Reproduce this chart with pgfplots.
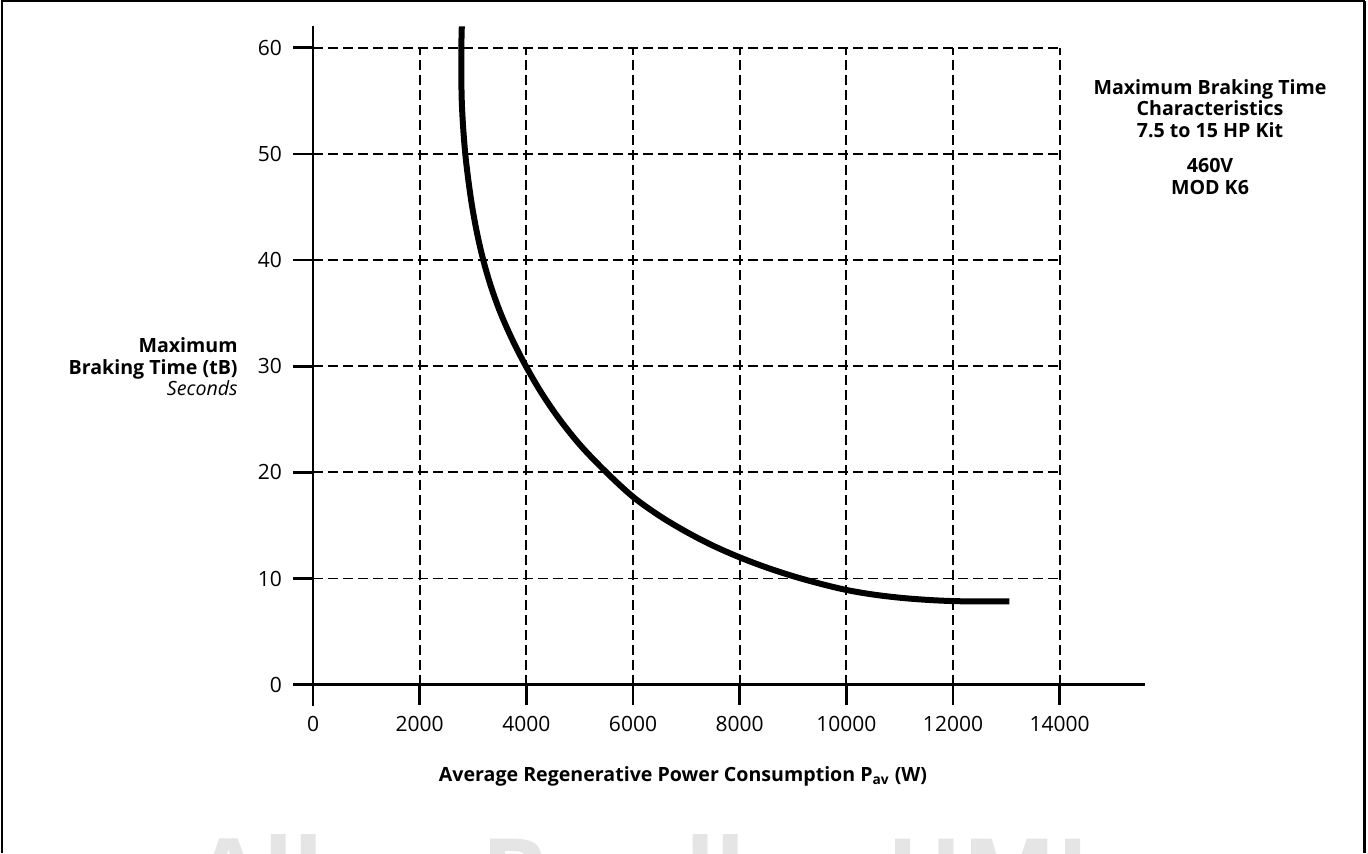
\documentclass[border=0pt]{standalone}
\usepackage{pgfplots}
\pgfplotsset{compat=1.18}
\usepackage{fontspec}
\setmainfont{Open Sans}
\begin{document}
\begin{tikzpicture}
\path[use as bounding box] (0,0) rectangle (684pt,426.5pt);
\begin{scope}
\clip (0,0) rectangle (684pt,426.5pt);
\node[anchor=base west, font=\fontsize{50}{50}\selectfont\bfseries, text=black!10, inner sep=0pt] at (97pt,-28.5pt) {Allen-Bradley HMI};
\end{scope}
\draw[line width=1pt] (0.75pt,0) -- (0.75pt,425.75pt) -- (682.5pt,425.75pt);
\draw[line width=1.6pt] (682.3pt,425.75pt) -- (682.3pt,0);
\begin{axis}[
  at={(146.5pt,73.5pt)}, anchor=south west,
  scale only axis, width=426pt, height=339.8pt,
  xmin=-375, xmax=15600, ymin=-2, ymax=62,
  axis lines=middle,
  axis line style={line width=1.3pt, -},
  hide obscured x ticks=false, hide obscured y ticks=false,
  xtick={0,2000,...,14000}, ytick={0,10,...,60},
  scaled ticks=false,
  xticklabel={\pgfmathprintnumber[fixed,precision=0,1000 sep={}]{\tick}},
  tick align=outside, major tick length=10pt,
  tick style={line width=1.3pt, black},
  /pgf/number format/1000 sep={},
  /pgf/number format/assume math mode=true,
  tick label style={font=\fontsize{10.5}{12}\selectfont},
  xticklabel style={yshift=-2pt},
  yticklabel style={xshift=-2pt},
  clip=false,
]
\pgfplotsinvokeforeach{2000,4000,...,14000}{
  \draw[line width=0.9pt, dash pattern=on 5pt off 2.5pt] (axis cs:#1,0) -- (axis cs:#1,60);
}
\pgfplotsinvokeforeach{10,20,...,60}{
  \draw[line width=0.9pt, dash pattern=on 5pt off 2.5pt] (axis cs:0,#1) -- (axis cs:14000,#1);
}
\addplot[black, line width=3pt, smooth, tension=0.55] coordinates {
(2790,62) (2781,60) (2781,57.5) (2789,55) (2815,52.5) (2855,50)
(2913,47.5) (2985,45) (3077,42.5) (3192,40) (3337,37.5) (3517,35)
(3737,32.5) (3992,30) (4282,27.5) (4622,25) (5022,22.5) (5502,20)
(6000,17.7) (6500,15.9) (7000,14.4) (7500,13.1) (8000,12.0) (8500,11.05)
(9000,10.23) (9500,9.53) (10000,8.93) (10500,8.5) (11000,8.2) (11500,8.0)
(12000,7.88) (12500,7.85) (13055,7.85)
};
\end{axis}
\node[anchor=east, align=right, font=\fontsize{9.8}{10.8}\selectfont\bfseries, inner sep=0pt] at (119pt,243pt)
  {Maximum\\Braking Time (tB)\\{\normalfont\itshape Seconds}};
\node[font=\fontsize{9.8}{10.8}\selectfont\bfseries, inner sep=0pt] at (341.5pt,38.5pt)
  {Average Regenerative Power Consumption P\textsubscript{av} (W)};
\node[align=center, font=\fontsize{9.8}{10.8}\selectfont\bfseries, inner sep=0pt] at (605pt,358pt)
  {Maximum Braking Time\\Characteristics\\7.5 to 15 HP Kit\\[7pt]460V\\MOD K6};
\end{tikzpicture}
\end{document}
